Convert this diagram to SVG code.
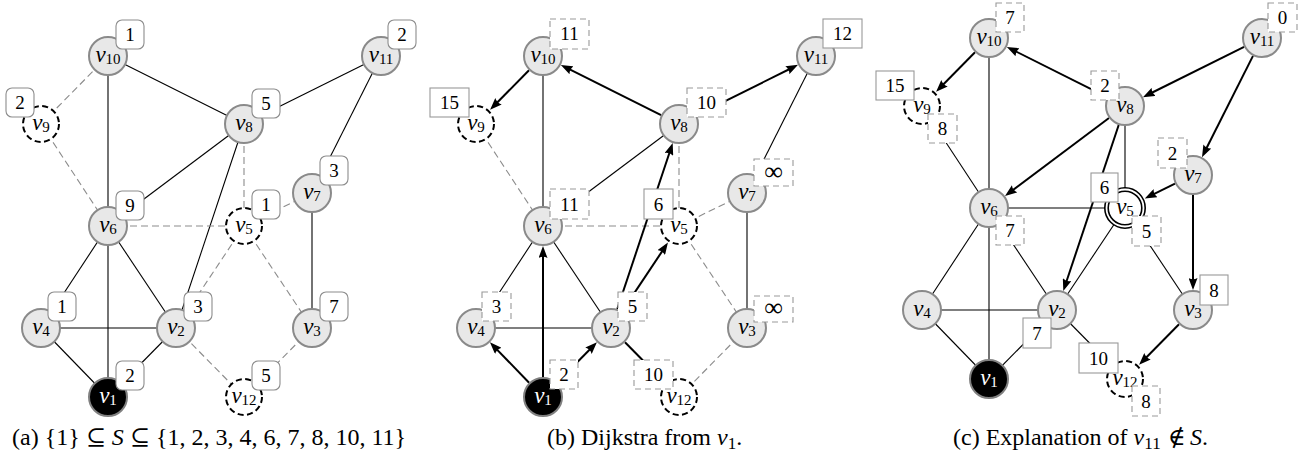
<svg xmlns="http://www.w3.org/2000/svg" width="1307" height="457" viewBox="0 0 1307 457">
<style>
.n{fill:#e8e8e8;stroke:#8a8a8a;stroke-width:2}
.nd{fill:#fff;stroke:#000;stroke-width:2;stroke-dasharray:6 3.5}
.ns{fill:#000;stroke:#808080;stroke-width:2}
.nw{fill:#fff;stroke:#000;stroke-width:5}
.nw2{fill:none;stroke:#fff;stroke-width:1.8}
.e{stroke:#000;stroke-width:1.1;fill:none}
.ed{stroke:#8c8c8c;stroke-width:1.1;stroke-dasharray:7 4;fill:none}
.a{stroke:#000;stroke-width:2;fill:none;marker-end:url(#arr)}
.lr{fill:#fff;stroke:#8c8c8c;stroke-width:1.1}
.ls{fill:#fff;stroke:#999;stroke-width:1.1}
.ld{fill:#fff;stroke:#999;stroke-width:1.1;stroke-dasharray:6 4}
.t{font-family:"Liberation Serif","DejaVu Serif",serif;font-size:19px;text-anchor:middle;fill:#000}
.inf{font-size:26px}
.v{font-family:"Liberation Serif","DejaVu Serif",serif;font-size:23px;font-style:italic;text-anchor:middle;fill:#000}
.vw{fill:#fff}
.s{font-size:15px;font-style:normal}
.cap{font-family:"Liberation Serif","DejaVu Serif",serif;font-size:24px;fill:#000}
.i{font-style:italic}
</style>
<defs>
<marker id="arr" viewBox="0 0 12 9" markerUnits="userSpaceOnUse" markerWidth="12" markerHeight="9" refX="6" refY="4.5" orient="auto">
<path d="M0,0 L12,4.5 L0,9 Q2.5,4.5 0,0 z" fill="#000"/>
</marker>
</defs>

<!-- Panel (a) -->
<g id="panel-a">
<g id="a-connectors">
<line class="e" x1="108" y1="56" x2="244" y2="124"/>
<line class="e" x1="108" y1="56" x2="108" y2="226"/>
<line class="e" x1="244" y1="124" x2="381" y2="56"/>
<line class="e" x1="381" y1="56" x2="312" y2="193"/>
<line class="e" x1="244" y1="124" x2="108" y2="226"/>
<line class="e" x1="244" y1="124" x2="176" y2="328"/>
<line class="e" x1="312" y1="193" x2="312" y2="328"/>
<line class="e" x1="108" y1="226" x2="41" y2="328"/>
<line class="e" x1="108" y1="226" x2="108" y2="397"/>
<line class="e" x1="108" y1="226" x2="176" y2="328"/>
<line class="e" x1="41" y1="328" x2="176" y2="328"/>
<line class="e" x1="41" y1="328" x2="108" y2="397"/>
<line class="e" x1="176" y1="328" x2="108" y2="397"/>
<line class="ed" x1="108" y1="56" x2="41" y2="124"/>
<line class="ed" x1="41" y1="124" x2="108" y2="226"/>
<line class="ed" x1="108" y1="226" x2="244" y2="226"/>
<line class="ed" x1="244" y1="124" x2="244" y2="226"/>
<line class="ed" x1="244" y1="226" x2="312" y2="193"/>
<line class="ed" x1="244" y1="226" x2="176" y2="328"/>
<line class="ed" x1="244" y1="226" x2="312" y2="328"/>
<line class="ed" x1="176" y1="328" x2="244" y2="397"/>
<line class="ed" x1="244" y1="397" x2="312" y2="328"/>
</g>
<g id="a-v10"><circle class="n" cx="108" cy="56" r="19"/><text class="v" x="108" y="62">v<tspan class="s" dy="2">10</tspan></text><rect class="lr" x="116" y="20" width="28" height="29" rx="6"/><text class="t" x="130" y="41">1</text></g>
<g id="a-v11"><circle class="n" cx="381" cy="56" r="19"/><text class="v" x="381" y="62">v<tspan class="s" dy="2">11</tspan></text><rect class="lr" x="388" y="20" width="28" height="29" rx="6"/><text class="t" x="402" y="41">2</text></g>
<g id="a-v9"><circle class="nd" cx="41" cy="124" r="18"/><text class="v" x="41" y="130">v<tspan class="s" dy="2">9</tspan></text><rect class="lr" x="6" y="88" width="28" height="29" rx="6"/><text class="t" x="20" y="109">2</text></g>
<g id="a-v8"><circle class="n" cx="244" cy="124" r="19"/><text class="v" x="244" y="130">v<tspan class="s" dy="2">8</tspan></text><rect class="lr" x="252" y="89" width="28" height="29" rx="6"/><text class="t" x="266" y="110">5</text></g>
<g id="a-v7"><circle class="n" cx="312" cy="193" r="19"/><text class="v" x="312" y="199">v<tspan class="s" dy="2">7</tspan></text><rect class="lr" x="320" y="156" width="28" height="29" rx="6"/><text class="t" x="334" y="177">3</text></g>
<g id="a-v6"><circle class="n" cx="108" cy="226" r="19"/><text class="v" x="108" y="232">v<tspan class="s" dy="2">6</tspan></text><rect class="lr" x="116" y="191" width="28" height="29" rx="6"/><text class="t" x="130" y="212">9</text></g>
<g id="a-v5"><circle class="nd" cx="244" cy="226" r="18"/><text class="v" x="244" y="232">v<tspan class="s" dy="2">5</tspan></text><rect class="lr" x="252" y="190" width="28" height="29" rx="6"/><text class="t" x="266" y="211">1</text></g>
<g id="a-v4"><circle class="n" cx="41" cy="328" r="19"/><text class="v" x="41" y="334">v<tspan class="s" dy="2">4</tspan></text><rect class="lr" x="48" y="292" width="28" height="29" rx="6"/><text class="t" x="62" y="313">1</text></g>
<g id="a-v2"><circle class="n" cx="176" cy="328" r="19"/><text class="v" x="176" y="334">v<tspan class="s" dy="2">2</tspan></text><rect class="lr" x="184" y="292" width="28" height="29" rx="6"/><text class="t" x="198" y="313">3</text></g>
<g id="a-v3"><circle class="n" cx="312" cy="328" r="19"/><text class="v" x="312" y="334">v<tspan class="s" dy="2">3</tspan></text><rect class="lr" x="320" y="292" width="28" height="29" rx="6"/><text class="t" x="334" y="313">7</text></g>
<g id="a-v1"><circle class="ns" cx="108" cy="397" r="19"/><text class="v vw" x="108" y="403">v<tspan class="s" dy="2">1</tspan></text><rect class="lr" x="116" y="361" width="28" height="29" rx="6"/><text class="t" x="130" y="382">2</text></g>
<g id="a-v12"><circle class="nd" cx="244" cy="397" r="18"/><text class="v" x="244" y="403">v<tspan class="s" dy="2">12</tspan></text><rect class="lr" x="252" y="361" width="28" height="29" rx="6"/><text class="t" x="266" y="382">5</text></g>
<text class="cap" x="12" y="445">(a) {1} ⊆ <tspan class="i">S</tspan> ⊆ {1, 2, 3, 4, 6, 7, 8, 10, 11}</text>
</g>

<!-- Panel (b) -->
<g id="panel-b" transform="translate(435,0)">
<g id="b-connectors">
<line class="e" x1="108" y1="56" x2="108" y2="226"/>
<line class="e" x1="108" y1="226" x2="244" y2="124"/>
<line class="e" x1="108" y1="226" x2="41" y2="328"/>
<line class="e" x1="108" y1="226" x2="176" y2="328"/>
<line class="e" x1="41" y1="328" x2="176" y2="328"/>
<line class="e" x1="381" y1="56" x2="312" y2="193"/>
<line class="e" x1="312" y1="193" x2="312" y2="328"/>
<line class="ed" x1="41" y1="124" x2="108" y2="226"/>
<line class="ed" x1="108" y1="226" x2="244" y2="226"/>
<line class="ed" x1="244" y1="124" x2="244" y2="226"/>
<line class="ed" x1="244" y1="226" x2="312" y2="193"/>
<line class="ed" x1="244" y1="226" x2="312" y2="328"/>
<line class="ed" x1="244" y1="397" x2="312" y2="328"/>
<line class="a" x1="94.1" y1="382.7" x2="59.1" y2="346.6"/>
<line class="a" x1="108" y1="378" x2="108" y2="252"/>
<line class="a" x1="122" y1="382.8" x2="157.7" y2="346.5"/>
<line class="a" x1="187.1" y1="311.4" x2="229.6" y2="247.6"/>
<line class="a" x1="182.3" y1="309" x2="235.8" y2="148.7"/>
<line class="a" x1="226.1" y1="115.1" x2="131.2" y2="67.6"/>
<line class="a" x1="94" y1="70.2" x2="59.3" y2="105.5"/>
<line class="a" x1="261.9" y1="115.1" x2="357.7" y2="67.5"/>
<line class="a" x1="190" y1="342.2" x2="225.7" y2="378.5"/>
</g>
<g id="b-v10"><circle class="n" cx="108" cy="56" r="19"/><text class="v" x="108" y="62">v<tspan class="s" dy="2">10</tspan></text><rect class="ld" x="115" y="19" width="39" height="30"/><text class="t" x="134.5" y="40">11</text></g>
<g id="b-v11"><circle class="n" cx="381" cy="56" r="19"/><text class="v" x="381" y="62">v<tspan class="s" dy="2">11</tspan></text><rect class="ls" x="388" y="19" width="39" height="29"/><text class="t" x="407.5" y="40">12</text></g>
<g id="b-v9"><circle class="nd" cx="41" cy="124" r="18"/><text class="v" x="41" y="130">v<tspan class="s" dy="2">9</tspan></text><rect class="ls" x="-5" y="88" width="39" height="29"/><text class="t" x="14.5" y="109">15</text></g>
<g id="b-v8"><circle class="n" cx="244" cy="124" r="19"/><text class="v" x="244" y="130">v<tspan class="s" dy="2">8</tspan></text><rect class="ld" x="252" y="88" width="39" height="29"/><text class="t" x="271.5" y="109">10</text></g>
<g id="b-v7"><circle class="n" cx="312" cy="193" r="19"/><text class="v" x="312" y="199">v<tspan class="s" dy="2">7</tspan></text><rect class="ld" x="319" y="159" width="39" height="27"/><text class="t inf" x="338.5" y="180">∞</text></g>
<g id="b-v6"><circle class="n" cx="108" cy="226" r="19"/><text class="v" x="108" y="232">v<tspan class="s" dy="2">6</tspan></text><rect class="ld" x="115" y="189" width="39" height="30"/><text class="t" x="134.5" y="211">11</text></g>
<g id="b-v5"><circle class="nd" cx="244" cy="226" r="18"/><text class="v" x="244" y="232">v<tspan class="s" dy="2">5</tspan></text><rect class="ls" x="209" y="189" width="29" height="30"/><text class="t" x="223.5" y="211">6</text></g>
<g id="b-v4"><circle class="n" cx="41" cy="328" r="19"/><text class="v" x="41" y="334">v<tspan class="s" dy="2">4</tspan></text><rect class="ld" x="47" y="292" width="29" height="29"/><text class="t" x="61.5" y="313">3</text></g>
<g id="b-v2"><circle class="n" cx="176" cy="328" r="19"/><text class="v" x="176" y="334">v<tspan class="s" dy="2">2</tspan></text><rect class="ld" x="183" y="292" width="29" height="29"/><text class="t" x="197.5" y="313">5</text></g>
<g id="b-v3"><circle class="n" cx="312" cy="328" r="19"/><text class="v" x="312" y="334">v<tspan class="s" dy="2">3</tspan></text><rect class="ld" x="319" y="296" width="39" height="26"/><text class="t inf" x="338.5" y="316">∞</text></g>
<g id="b-v1"><circle class="ns" cx="108" cy="397" r="19"/><text class="v vw" x="108" y="403">v<tspan class="s" dy="2">1</tspan></text><rect class="ld" x="115" y="360" width="28" height="29"/><text class="t" x="129" y="381">2</text></g>
<g id="b-v12"><circle class="nd" cx="244" cy="397" r="18"/><text class="v" x="244" y="403">v<tspan class="s" dy="2">12</tspan></text><rect class="ld" x="199" y="360" width="39" height="29"/><text class="t" x="218.5" y="381">10</text></g>
<text class="cap" x="112" y="445">(b) Dijkstra from <tspan class="i">v</tspan><tspan font-size="17" dy="4">1</tspan><tspan dy="-4">.</tspan></text>
</g>

<!-- Panel (c) -->
<g id="panel-c" transform="translate(881,-18)">
<g id="c-connectors">
<line class="e" x1="108" y1="56" x2="108" y2="226"/>
<line class="e" x1="41" y1="124" x2="108" y2="226"/>
<line class="e" x1="244" y1="124" x2="244" y2="226"/>
<line class="e" x1="108" y1="226" x2="244" y2="226"/>
<line class="e" x1="108" y1="226" x2="41" y2="328"/>
<line class="e" x1="108" y1="226" x2="108" y2="397"/>
<line class="e" x1="108" y1="226" x2="176" y2="328"/>
<line class="e" x1="41" y1="328" x2="176" y2="328"/>
<line class="e" x1="41" y1="328" x2="108" y2="397"/>
<line class="e" x1="176" y1="328" x2="108" y2="397"/>
<line class="e" x1="244" y1="226" x2="176" y2="328"/>
<line class="e" x1="244" y1="226" x2="312" y2="328"/>
<line class="e" x1="176" y1="328" x2="244" y2="397"/>
<line class="a" x1="94" y1="70.2" x2="59.3" y2="105.5"/>
<line class="a" x1="226.1" y1="115.1" x2="131.2" y2="67.6"/>
<line class="a" x1="363.1" y1="64.9" x2="267.3" y2="112.5"/>
<line class="a" x1="372" y1="73.9" x2="323.7" y2="169.8"/>
<line class="a" x1="228" y1="136" x2="128.8" y2="210.4"/>
<line class="a" x1="237.7" y1="143" x2="184.2" y2="303.3"/>
<line class="a" x1="294" y1="201.7" x2="269.2" y2="213.8"/>
<line class="a" x1="312" y1="213" x2="312" y2="302"/>
<line class="a" x1="298" y1="342.2" x2="262.3" y2="378.5"/>
</g>
<g id="c-v10"><circle class="n" cx="108" cy="56" r="19"/><text class="v" x="108" y="62">v<tspan class="s" dy="2">10</tspan></text><rect class="ld" x="115" y="21" width="28" height="29"/><text class="t" x="129" y="42">7</text></g>
<g id="c-v11"><circle class="n" cx="381" cy="56" r="19"/><text class="v" x="381" y="62">v<tspan class="s" dy="2">11</tspan></text><rect class="ld" x="387" y="21" width="29" height="29"/><text class="t" x="401.5" y="42">0</text></g>
<g id="c-v9"><circle class="nd" cx="41" cy="124" r="18"/><text class="v" x="41" y="130">v<tspan class="s" dy="2">9</tspan></text><rect class="ls" x="-5" y="89" width="38" height="29"/><text class="t" x="14" y="110">15</text><rect class="ld" x="47" y="132" width="29" height="29"/><text class="t" x="61.5" y="153">8</text></g>
<g id="c-v8"><circle class="n" cx="244" cy="124" r="19"/><text class="v" x="244" y="130">v<tspan class="s" dy="2">8</tspan></text><rect class="ld" x="210" y="89" width="28" height="29"/><text class="t" x="224" y="110">2</text></g>
<g id="c-v7"><circle class="n" cx="312" cy="193" r="19"/><text class="v" x="312" y="199">v<tspan class="s" dy="2">7</tspan></text><rect class="ld" x="277" y="156" width="29" height="30"/><text class="t" x="291.5" y="178">2</text></g>
<g id="c-v6"><circle class="n" cx="108" cy="226" r="19"/><text class="v" x="108" y="232">v<tspan class="s" dy="2">6</tspan></text><rect class="ld" x="115" y="234" width="28" height="29"/><text class="t" x="129" y="255">7</text></g>
<g id="c-v5"><circle class="nw" cx="244" cy="226" r="18.5"/><circle class="nw2" cx="244" cy="226" r="18.5"/><text class="v" x="244" y="232">v<tspan class="s" dy="2">5</tspan></text><rect class="ls" x="210" y="191" width="27" height="29"/><text class="t" x="223.5" y="212">6</text><rect class="ld" x="251" y="234" width="29" height="30"/><text class="t" x="265.5" y="256">5</text></g>
<g id="c-v4"><circle class="n" cx="41" cy="328" r="19"/><text class="v" x="41" y="334">v<tspan class="s" dy="2">4</tspan></text></g>
<g id="c-v2"><circle class="n" cx="176" cy="328" r="19"/><text class="v" x="176" y="334">v<tspan class="s" dy="2">2</tspan></text><rect class="ls" x="142" y="336" width="28" height="30"/><text class="t" x="156" y="358">7</text></g>
<g id="c-v3"><circle class="n" cx="312" cy="328" r="19"/><text class="v" x="312" y="334">v<tspan class="s" dy="2">3</tspan></text><rect class="ls" x="319" y="293" width="28" height="30"/><text class="t" x="333" y="315">8</text></g>
<g id="c-v1"><circle class="ns" cx="108" cy="397" r="19"/><text class="v vw" x="108" y="403">v<tspan class="s" dy="2">1</tspan></text></g>
<g id="c-v12"><circle class="nd" cx="244" cy="397" r="18"/><text class="v" x="244" y="403">v<tspan class="s" dy="2">12</tspan></text><rect class="ls" x="198" y="361" width="39" height="30"/><text class="t" x="217.5" y="383">10</text><rect class="ld" x="251" y="404" width="28" height="30"/><text class="t" x="265" y="426">8</text></g>
<text class="cap" x="72" y="463">(c) Explanation of <tspan class="i">v</tspan><tspan font-size="17" dy="4">11</tspan><tspan dy="-4" x="287">∉</tspan><tspan class="i" x="309">S</tspan>.</text>
</g>
</svg>
